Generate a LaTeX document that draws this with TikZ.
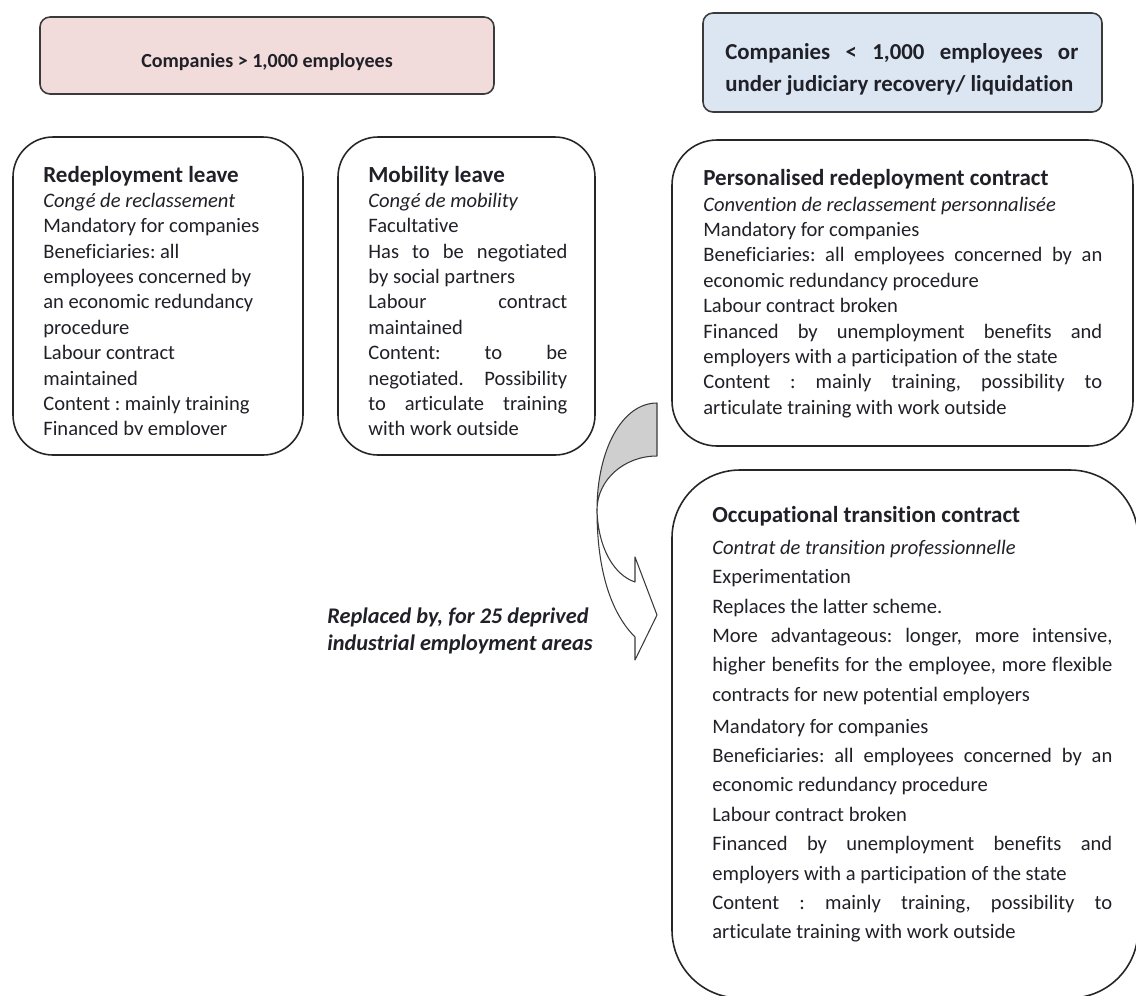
\documentclass[tikz,border=0pt]{standalone}
\usepackage{fontspec}
\setmainfont{Carlito}[Ligatures=NoCommon]
\frenchspacing
\newlength\px
\setlength\px{0.02cm}
\definecolor{pinkfill}{HTML}{F2DCDB}
\definecolor{bluefill}{HTML}{DCE6F2}
\definecolor{txt}{HTML}{202028}
\definecolor{edge}{HTML}{3A3A3A}
\definecolor{arrowgray}{HTML}{CFCFCF}
\newcommand\jline[2]{\makebox[#1\px][s]{#2}}
\newcommand\ttl[1]{{\fontsize{13.1}{14.45}\selectfont\bfseries #1}}
\begin{document}
\begin{tikzpicture}[x=0.02cm,y=-0.02cm,
  hdrbox/.style={draw=edge, line width=0.9pt, rounded corners=10\px, inner sep=0pt},
  infobox/.style={draw=black!85, line width=0.9pt, fill=white, inner sep=0pt},
  bodytext/.style={inner sep=0pt, anchor=north west, align=left, text=txt,
    font=\fontsize{11.7}{14.45}\selectfont},
  bigtext/.style={inner sep=0pt, anchor=north west, align=left, text=txt,
    font=\fontsize{11.7}{16.72}\selectfont},
  hdrtext/.style={inner sep=0pt, text=txt, font=\fontsize{13}{18.2}\selectfont\bfseries},
  arrowpart/.style={draw=edge, line width=0.6pt, line join=round}
]
\useasboundingbox (0,0) rectangle (1136,995);

% header boxes
\node[hdrbox, fill=pinkfill, minimum width=454\px, minimum height=77\px] (bigco) at (267,55.5) {};
\node[hdrtext, font=\fontsize{11.4}{14}\selectfont\bfseries] (bigcotext) at (267,62.5) {Companies > 1,000 employees};
\node[hdrbox, fill=bluefill, minimum width=399\px, minimum height=99\px] (smallco) at (902.5,62.5) {};
\node[hdrtext, anchor=north west, align=left] (smallcotext) at (725,43.5)
  {\jline{353}{Companies < 1,000 employees or}\\
   under judiciary recovery/ liquidation};

% info boxes
\node[infobox, rounded corners=40\px, minimum width=290\px, minimum height=318\px] (redeploy) at (158,296) {};
\node[infobox, rounded corners=40\px, minimum width=257\px, minimum height=318\px] (mobility) at (466.5,296) {};
\node[infobox, rounded corners=45\px, minimum width=461\px, minimum height=306\px] (perso) at (902.5,293) {};
\node[infobox, rounded corners=68\px, minimum width=466\px, minimum height=528\px] (occup) at (905,734) {};

\begin{scope}
\clip (0,137) rectangle (310,434);
\node[bodytext] (redeploytext) at (43,165.5)
  {\ttl{Redeployment leave}\\
   \textit{Congé de reclassement}\\
   Mandatory for companies\\
   Beneficiaries: all\\
   employees concerned by\\
   an economic redundancy\\
   procedure\\
   Labour contract\\
   maintained\\
   Content : mainly training\\
   Financed by employer};
\end{scope}

\node[bodytext] (mobilitytext) at (368,165.5)
  {\ttl{Mobility leave}\\
   \textit{Congé de mobility}\\
   Facultative\\
   \jline{199}{Has to be negotiated}\\
   by social partners\\
   \jline{199}{Labour contract}\\
   maintained\\
   \jline{199}{Content: to be}\\
   \jline{199}{negotiated. Possibility}\\
   \jline{199}{to articulate training}\\
   with work outside};

\node[bodytext] (persotext) at (703,169.3)
  {\ttl{Personalised redeployment contract}\\
   \textit{Convention de reclassement personnalisée}\\
   Mandatory for companies\\
   \jline{399}{Beneficiaries: all employees concerned by an}\\
   economic redundancy procedure\\
   Labour contract broken\\
   \jline{399}{Financed by unemployment benefits and}\\
   employers with a participation of the state\\
   \jline{399}{Content : mainly training, possibility to}\\
   articulate training with work outside};

\node[bigtext] (occuptext) at (712,505.8)
  {\ttl{Occupational transition contract}\\[1.5pt]
   \textit{Contrat de transition professionnelle}\\
   Experimentation\\
   Replaces the latter scheme.\\
   \jline{400}{More advantageous: longer, more intensive,}\\
   \jline{400}{higher benefits for the employee, more flexible}\\
   contracts for new potential employers\\[1.5pt]
   Mandatory for companies\\
   \jline{400}{Beneficiaries: all employees concerned by an}\\
   economic redundancy procedure\\
   Labour contract broken\\
   \jline{400}{Financed by unemployment benefits and}\\
   employers with a participation of the state\\
   \jline{400}{Content : mainly training, possibility to}\\
   articulate training with work outside};

% curved arrow
\filldraw[arrowpart, fill=arrowgray] (657,403) .. controls (622,403) and (597,450) .. (597,510)
  .. controls (597,480) and (624,456) .. (657,456) -- cycle;
\filldraw[arrowpart, fill=white] (597,510) .. controls (598,548) and (614,575) .. (635,582)
  -- (635,557) -- (657,615) -- (635,660) -- (635,637)
  .. controls (613,615) and (597,575) .. (597,510) -- cycle;

\node[inner sep=0pt, anchor=north west, align=left, text=txt,
  font=\fontsize{12.7}{15.4}\selectfont\bfseries\itshape] (replaced) at (327,607)
  {Replaced by, for 25 deprived\\ industrial employment areas};
\end{tikzpicture}
\end{document}
